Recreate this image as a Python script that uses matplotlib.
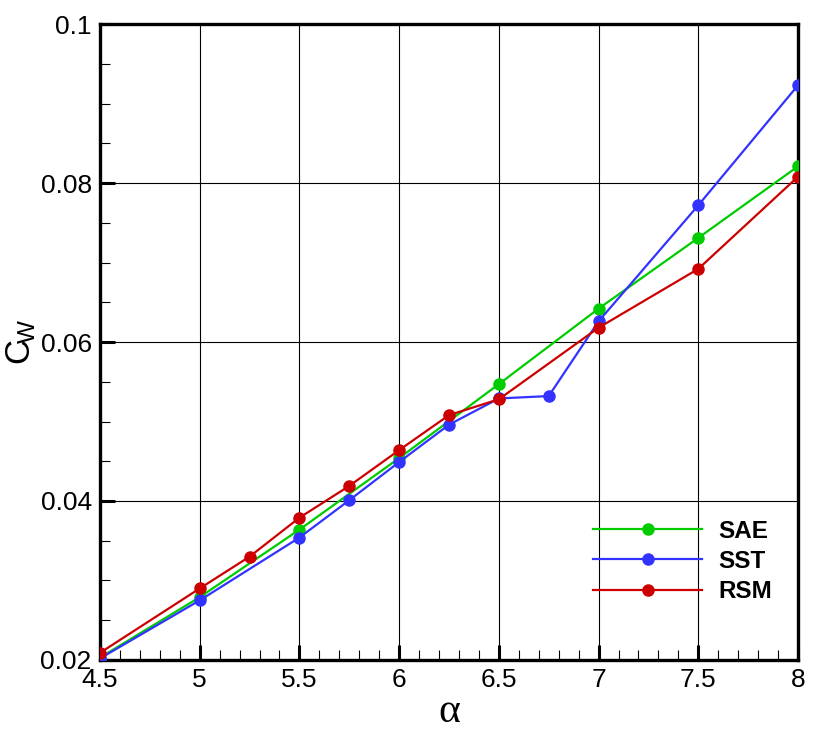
import matplotlib
matplotlib.use("Agg")
import matplotlib.pyplot as plt
from matplotlib.ticker import MultipleLocator

plt.rcParams['font.family'] = ['Liberation Sans', 'DejaVu Sans']

# donnees
alpha_sae = [4.5, 5, 5.5, 6, 6.5, 7, 7.5, 8]
cw_sae = [0.0203, 0.0279, 0.0364, 0.0454, 0.0547, 0.0642, 0.0731, 0.0821]

alpha_sst = [4.5, 5, 5.5, 5.75, 6, 6.25, 6.5, 6.75, 7, 7.5, 8]
cw_sst = [0.0202, 0.0275, 0.0354, 0.0401, 0.0449, 0.0496, 0.0529, 0.0532, 0.0626, 0.0772, 0.0923]

alpha_rsm = [4.5, 5, 5.25, 5.5, 5.75, 6, 6.25, 6.5, 7, 7.5, 8]
cw_rsm = [0.0209, 0.0290, 0.0330, 0.0379, 0.0419, 0.0464, 0.0508, 0.0528, 0.0618, 0.0692, 0.0808]

xticks = [4.5, 5, 5.5, 6, 6.5, 7, 7.5, 8]
xlabels = ['4.5', '5', '5.5', '6', '6.5', '7', '7.5', '8']
yticks = [0.02, 0.04, 0.06, 0.08, 0.1]
ylabels = ['0.02', '0.04', '0.06', '0.08', '0.1']

fig = plt.figure(figsize=(8.19, 7.30), dpi=100)
ax = fig.add_axes([0.1221, 0.0959, 0.8523, 0.8712])

ax.plot(alpha_sae, cw_sae, color='#00cc00', lw=1.6, marker='o', ms=8, label='SAE', zorder=3)
ax.plot(alpha_sst, cw_sst, color='#3333ff', lw=1.6, marker='o', ms=8, label='SST', zorder=4)
ax.plot(alpha_rsm, cw_rsm, color='#cc0000', lw=1.6, marker='o', ms=8, label='RSM', zorder=5)

ax.set_xlim(4.5, 8)
ax.set_ylim(0.02, 0.1)
ax.xaxis.set_minor_locator(MultipleLocator(0.1))
ax.yaxis.set_minor_locator(MultipleLocator(0.005))
ax.set_xticks(xticks)
ax.set_xticklabels(xlabels)
ax.set_yticks(yticks)
ax.set_yticklabels(ylabels)

ax.grid(True, which='major', color='black', lw=0.8)
ax.tick_params(which='major', direction='in', length=11, width=2.2, labelsize=19, pad=6)
ax.tick_params(which='minor', direction='in', length=7, width=0.8)
for s in ax.spines.values():
    s.set_linewidth(2.4)

ax.set_xlabel('α', fontsize=30, family=['Liberation Serif', 'DejaVu Serif'], labelpad=0)
ax.set_ylabel(r'$\mathregular{C_{\!W}}$', fontsize=25, labelpad=2)

ax.legend(loc='lower left', bbox_to_anchor=(0.675, 0.055), frameon=False,
          handlelength=4.5, handletextpad=0.65, labelspacing=0.3,
          prop={'weight': 'bold', 'size': 17.5})

fig.savefig('out.png', dpi=100)
